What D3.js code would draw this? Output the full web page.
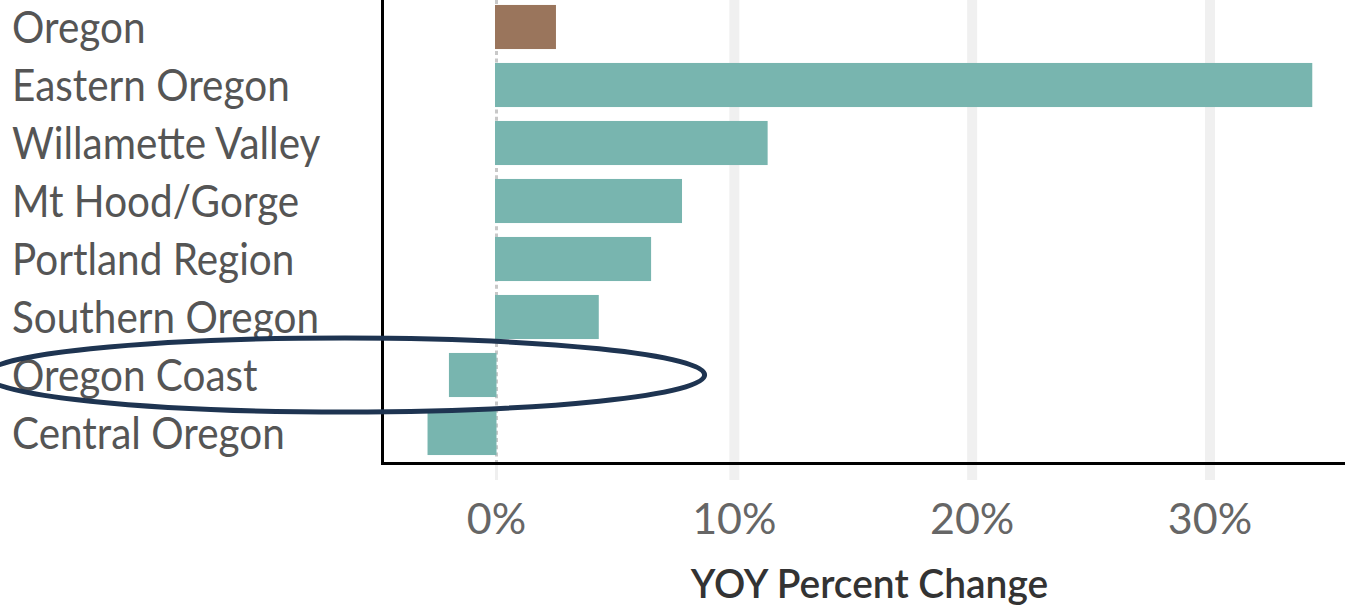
<!DOCTYPE html>
<html>
<head>
<meta charset="utf-8">
<script src="https://cdn.jsdelivr.net/npm/d3@7"></script>
<style>
  html, body { margin: 0; padding: 0; background: #fff; }
  svg { display: block; font-family: Lato, "Open Sans", sans-serif; }
</style>
</head>
<body>
<svg id="chart" width="1345" height="607"></svg>
<script>
// regions, top to bottom
const regions = ["Oregon", "Eastern Oregon", "Willamette Valley", "Mt Hood/Gorge",
                 "Portland Region", "Southern Oregon", "Oregon Coast", "Central Oregon"];
// YOY percent change
const yoyChange = [2.5, 34.3, 11.4, 7.8, 6.5, 4.3, -2.0, -2.9];
const xTicks = [0, 10, 20, 30];
// circled region and the span of the ring (in %)
const highlight = "Oregon Coast";
const ringSpan = [-21.5, 8.75];

const width = 1345, height = 607;
const plotLeft = 382.5, axisY = 463.5;

const svg = d3.select("#chart");

const x = d3.scaleLinear().domain([0, 30]).range([496.5, 1210]);
const y = d3.scaleBand().domain(regions).range([-2, 462])
    .paddingInner(0.24).paddingOuter(0.12);

const rows = regions.map((r, i) => ({region: r, value: yoyChange[i]}));

// grid lines
svg.append("g")
  .selectAll("line")
  .data(xTicks.filter(d => d !== 0))
  .join("line")
    .attr("x1", d => x(d)).attr("x2", d => x(d))
    .attr("y1", 0).attr("y2", 480)
    .attr("stroke", "#f0f0f0")
    .attr("stroke-width", 10);

// zero line: solid stub under the axis, dotted inside the plot
svg.append("line")
    .attr("x1", x(0)).attr("x2", x(0))
    .attr("y1", axisY).attr("y2", 480)
    .attr("stroke", "#efefef").attr("stroke-width", 3);
svg.append("line")
    .attr("x1", x(0)).attr("x2", x(0))
    .attr("y1", 0).attr("y2", axisY)
    .attr("stroke", "#c8c8c8").attr("stroke-width", 3)
    .attr("stroke-dasharray", "4,3.3");

// bars
svg.append("g")
  .selectAll("rect")
  .data(rows)
  .join("rect")
    .attr("x", d => Math.min(x(0), x(d.value)) - (d.value >= 0 ? 1.5 : 0))
    .attr("width", d => Math.abs(x(d.value) - x(0)) + (d.value >= 0 ? 1.5 : 0))
    .attr("y", d => y(d.region))
    .attr("height", y.bandwidth())
    .attr("fill", d => d.region === "Oregon" ? "#9a755c" : "#78b5af");

// axis frame
svg.append("line")
    .attr("x1", plotLeft).attr("x2", plotLeft)
    .attr("y1", 0).attr("y2", axisY + 1.5)
    .attr("stroke", "#000").attr("stroke-width", 3);
svg.append("line")
    .attr("x1", plotLeft - 1.5).attr("x2", width)
    .attr("y1", axisY).attr("y2", axisY)
    .attr("stroke", "#000").attr("stroke-width", 3);

// category labels (slightly condensed, like the original font)
svg.append("g")
    .attr("transform", "translate(12,0) scale(0.92,1)")
  .selectAll("text")
  .data(regions)
  .join("text")
    .attr("x", 0)
    .attr("y", d => y(d) + y.bandwidth() / 2)
    .attr("dy", "0.36em")
    .attr("font-size", 44)
    .attr("fill", "#555")
    .text(d => d);

// tick labels
svg.append("g")
  .selectAll("text")
  .data(xTicks)
  .join("text")
    .attr("x", d => x(d))
    .attr("y", 534)
    .attr("text-anchor", "middle")
    .attr("font-size", 43)
    .attr("fill", "#666")
    .text(d => d + "%");

// axis title
svg.append("text")
    .attr("x", 869.5)
    .attr("y", 598)
    .attr("text-anchor", "middle")
    .attr("font-size", 41)
    .attr("font-weight", 600)
    .attr("fill", "#333")
    .attr("transform", "translate(869.5,0) scale(0.95,1) translate(-869.5,0)")
    .text("YOY Percent Change");

// ring around the highlighted region
svg.append("ellipse")
    .attr("cx", (x(ringSpan[0]) + x(ringSpan[1])) / 2)
    .attr("cy", y(highlight) + y.bandwidth() / 2)
    .attr("rx", (x(ringSpan[1]) - x(ringSpan[0])) / 2)
    .attr("ry", y.bandwidth() * 0.84)
    .attr("fill", "none")
    .attr("stroke", "#1e3451")
    .attr("stroke-width", 5);
</script>
</body>
</html>
